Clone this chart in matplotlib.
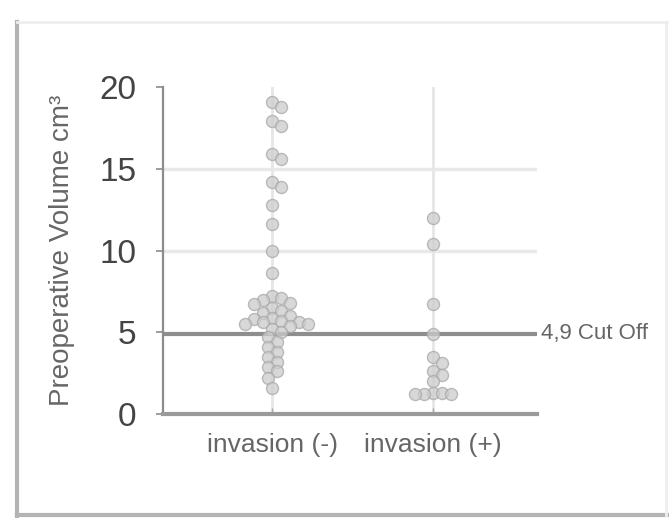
import numpy as np
import matplotlib
matplotlib.use("Agg")
import matplotlib.pyplot as plt
from matplotlib.lines import Line2D

plt.rcParams['font.family'] = ['Liberation Sans', 'DejaVu Sans']

grupy = ["invasion (-)", "invasion (+)"]
objetosc_minus = [19.1, 18.8, 17.9, 17.6, 15.9, 15.6, 14.2, 13.9, 12.8, 11.6,
                  10.0, 8.6, 7.2, 7.1, 7.0, 6.8, 6.7, 6.5, 6.3, 6.2, 6.0, 5.9,
                  5.8, 5.7, 5.6, 5.6, 5.5, 5.5, 5.4, 5.2, 5.0, 4.7, 4.4, 4.1,
                  3.8, 3.5, 3.2, 2.9, 2.6, 2.2, 1.6]
objetosc_plus = [12.0, 10.4, 6.7, 4.9, 3.5, 3.1, 2.6, 2.4, 2.0, 1.3, 1.3,
                 1.2, 1.2, 1.2]
odciecie = 4.9
etykieta_odciecia = "4,9 Cut Off"
yticks = [0, 5, 10, 15, 20]


def roj(ax, x0, wartosci, odstep=8.5, krok=4.5):
    # prosty beeswarm liczony w pikselach
    pts = ax.transData.transform([(x0, v) for v in wartosci])
    postawione = []
    for px, py in pts:
        k = 0
        znaleziono = False
        while not znaleziono:
            for znak in ([0] if k == 0 else [1, -1]):
                cx = px + znak * k * krok
                if all((cx - qx) ** 2 + (py - qy) ** 2 >= odstep ** 2
                       for qx, qy in postawione):
                    znaleziono = True
                    break
            k += 1
        postawione.append((cx, py))
    return ax.transData.inverted().transform(postawione)


fig = plt.figure(figsize=(6.69, 5.18), dpi=100)
ax = fig.add_axes([0.2437, 0.2008, 0.559, 0.6312])
ax.set_xlim(0.323, 2.646)
ax.set_ylim(0, 20)

for s in ['top', 'right']:
    ax.spines[s].set_visible(False)
ax.spines['left'].set_color('#8c8c8c')
ax.spines['left'].set_linewidth(1.6)
ax.spines['bottom'].set_color('#9a9a9a')
ax.spines['bottom'].set_linewidth(3)

for g in [10, 15]:
    ax.axhline(g, color='#e8e8e8', lw=2.5, zorder=0)
for x in [1, 2]:
    ax.plot([x, x], [0, 20], color='#e6e6e6', lw=2, zorder=0)

ax.axhline(odciecie, color='#8e8e8e', lw=3, zorder=1)
ax.text(2.67, odciecie, etykieta_odciecia, va='center', ha='left',
        fontsize=16, color='#666666', transform=ax.transData, clip_on=False)

for x, dane in [(1, objetosc_minus), (2, objetosc_plus)]:
    xy = roj(ax, x, dane)
    ax.scatter(xy[:, 0], xy[:, 1], s=75, facecolor='#cccccc',
               edgecolor='#a8a8a8', linewidth=1, alpha=0.75, zorder=3)

ax.set_yticks(yticks)
ax.set_yticklabels([str(t) for t in yticks], fontsize=24, color='#444444')
ax.tick_params(axis='y', length=5, width=1.2, color='#8c8c8c', pad=14)
ax.set_xticks([1, 2])
ax.set_xticklabels(grupy, fontsize=19, color='#666666')
ax.tick_params(axis='x', length=4, width=1, color='#aaaaaa', direction='in', pad=14)
ax.set_ylabel("Preoperative Volume cm³", fontsize=20, color='#666666', labelpad=18)

# ramka wokol wykresu
fig.add_artist(Line2D([17 / 669, 17 / 669], [2 / 518, 496 / 518], color='#b4b4b4', lw=3))
fig.add_artist(Line2D([17 / 669, 667 / 669], [3 / 518, 3 / 518], color='#b4b4b4', lw=3))
fig.add_artist(Line2D([17 / 669, 667 / 669], [496 / 518, 496 / 518], color='#eeeeee', lw=2))
fig.add_artist(Line2D([666 / 669, 666 / 669], [3 / 518, 496 / 518], color='#eeeeee', lw=2))

fig.savefig("out.png", dpi=100)
